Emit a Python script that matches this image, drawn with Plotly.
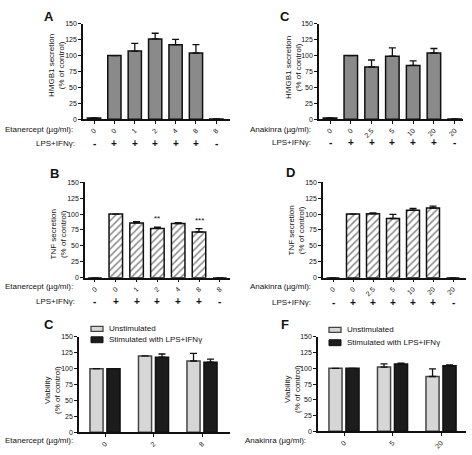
import plotly.graph_objects as go

W, H = 472, 455

# ---------------- data ----------------
eta_conc = ["0", "0", "1", "2", "4", "8", "8"]
ana_conc = ["0", "0", "2.5", "5", "10", "20", "20"]
lps_signs = ["-", "+", "+", "+", "+", "+", "-"]

hmgb1_eta = [2, 100, 107, 126, 117, 104, 0.5]
hmgb1_eta_err = [0, 0, 12, 9, 8.5, 13, 0]
hmgb1_ana = [2, 100, 82, 99, 84.5, 104, 0.5]
hmgb1_ana_err = [0, 0, 11, 13, 7, 7, 0]
tnf_eta = [0, 100, 86, 77.5, 85, 72, 0]
tnf_eta_err = [0, 0, 2, 2, 1.5, 5, 0]
tnf_eta_sig = ["", "", "", "**", "", "***", ""]
tnf_ana = [0, 100, 100.5, 93, 106, 109.5, 0]
tnf_ana_err = [0, 0, 1.5, 6.5, 3, 3, 0]

via_eta_conc = ["0", "2", "8"]
via_eta_unstim = [100, 120, 112]
via_eta_unstim_err = [0, 0, 12]
via_eta_stim = [100, 118, 110]
via_eta_stim_err = [0, 5, 5]

via_ana_conc = ["0", "5", "20"]
via_ana_unstim = [100, 102, 87]
via_ana_unstim_err = [0, 5, 12]
via_ana_stim = [100, 107, 104]
via_ana_stim_err = [0, 1, 1.5]

y_ticks = [0, 25, 50, 75, 100, 125, 150]

# ---------------- helpers ----------------
FONT = "Liberation Sans, Arial, sans-serif"
INK = "#111111"


def px(x):
    return x / W


def py(y):
    return 1 - y / H


fig = go.Figure()

panels = {
    # name: (x0, x1, ytop, ybottom, xrange)
    1: (83, 230, 20, 117, [-0.54, 6.67]),
    2: (85, 230, 181, 278, [-0.48, 6.49]),
    3: (319, 463, 20, 117, [-0.53, 6.4]),
    4: (323, 466, 181, 278, [-0.5, 6.65]),
    5: (79, 230, 338, 435, [-0.536, 2.577]),
    6: (318, 466, 338, 434, [-0.536, 2.515]),
}
ticktexts = {1: eta_conc, 2: eta_conc, 3: ana_conc, 4: ana_conc,
             5: via_eta_conc, 6: via_ana_conc}

layout = dict(
    width=W, height=H,
    margin=dict(l=0, r=0, t=0, b=0),
    paper_bgcolor="white", plot_bgcolor="white",
    showlegend=False, barmode="overlay",
    font=dict(family=FONT, size=8, color=INK),
)

for i, (x0, x1, yt, yb, xr) in panels.items():
    sx = "" if i == 1 else str(i)
    layout["xaxis" + sx] = dict(
        domain=[px(x0), px(x1)], range=xr, anchor="y" + sx,
        tickvals=list(range(len(ticktexts[i]))), ticktext=ticktexts[i],
        tickangle=-45, ticks="outside", ticklen=3, tickwidth=1, tickcolor=INK,
        showline=True, linecolor=INK, linewidth=1.5,
        showgrid=False, zeroline=False, fixedrange=True,
        tickfont=dict(size=7, family=FONT, color=INK),
    )
    layout["yaxis" + sx] = dict(
        domain=[py(yb), py(yt)], range=[0, 150], anchor="x" + sx,
        tickvals=y_ticks, ticks="outside", ticklen=3, tickwidth=1, tickcolor=INK,
        showline=True, linecolor=INK, linewidth=1.5,
        showgrid=False, zeroline=False, fixedrange=True,
        tickfont=dict(size=7, family=FONT, color=INK),
    )


def err(arr):
    return dict(type="data", array=arr, arrayminus=[0] * len(arr), symmetric=False,
                color=INK, thickness=1.3, width=3.5)


solid_marker = dict(color="#8a8a8a", line=dict(color=INK, width=1.5))
hatch_marker = dict(color="white", line=dict(color=INK, width=1.5),
                    pattern=dict(shape="/", fgcolor=INK, bgcolor="white",
                                 size=5, solidity=0.3))

fig.add_bar(x=list(range(len(hmgb1_eta))), y=hmgb1_eta, error_y=err(hmgb1_eta_err),
            width=0.65, marker=solid_marker, xaxis="x", yaxis="y")
fig.add_bar(x=list(range(len(tnf_eta))), y=tnf_eta, error_y=err(tnf_eta_err),
            width=0.65, marker=hatch_marker, xaxis="x2", yaxis="y2")
fig.add_bar(x=list(range(len(hmgb1_ana))), y=hmgb1_ana, error_y=err(hmgb1_ana_err),
            width=0.65, marker=solid_marker, xaxis="x3", yaxis="y3")
fig.add_bar(x=list(range(len(tnf_ana))), y=tnf_ana, error_y=err(tnf_ana_err),
            width=0.65, marker=hatch_marker, xaxis="x4", yaxis="y4")

unstim_marker = dict(color="#d6d6d6", line=dict(color="#444", width=1.5))
stim_marker = dict(color="#1c1c1c", line=dict(color="#111", width=1.5))

for ax, u, ue, s, se in [("5", via_eta_unstim, via_eta_unstim_err, via_eta_stim, via_eta_stim_err),
                         ("6", via_ana_unstim, via_ana_unstim_err, via_ana_stim, via_ana_stim_err)]:
    xs = list(range(len(u)))
    fig.add_bar(x=xs, y=u, error_y=err(ue), width=0.27, offset=-0.31,
                marker=unstim_marker, name="Unstimulated", xaxis="x" + ax, yaxis="y" + ax)
    fig.add_bar(x=xs, y=s, error_y=err(se), width=0.27, offset=0.04,
                marker=stim_marker, name="Stimulated with LPS+IFNγ", xaxis="x" + ax, yaxis="y" + ax)

annotations = []
shapes = []


def ann(text, x, y, size=8, xanchor="center", yanchor="middle", angle=0, bold=False, **kw):
    annotations.append(dict(
        text=("<b>%s</b>" % text) if bold else text, x=x, y=y, xref=kw.pop("xref", "paper"),
        yref=kw.pop("yref", "paper"), showarrow=False, xanchor=xanchor, yanchor=yanchor,
        textangle=angle, font=dict(family=FONT, size=size, color=INK), **kw))


# panel letters
for letter, x, y in [("A", 49, 13), ("C", 285, 13), ("B", 54, 172), ("D", 290, 171),
                     ("C", 49, 326), ("F", 285, 326)]:
    ann(letter, px(x), py(y), size=13, bold=True)

# y-axis titles
for text, x, y in [("HMGB1 secretion<br>(% of control)", 56, 63),
                   ("HMGB1 secretion<br>(% of control)", 294, 65),
                   ("TNF secretion<br>(% of control)", 58, 234),
                   ("TNF secretion<br>(% of control)", 296, 230),
                   ("Viability<br>(% of control)", 53, 392),
                   ("Viability<br>(% of control)", 293, 391)]:
    ann(text, px(x), py(y), size=8, angle=-90)

# row labels
for text, x, y in [("Etanercept (µg/ml):", 75, 127), ("LPS+IFNγ:", 77, 142),
                   ("Anakinra (µg/ml):", 313, 127), ("LPS+IFNγ:", 313, 141),
                   ("Etanercept (µg/ml):", 75, 287), ("LPS+IFNγ:", 77, 302),
                   ("Anakinra (µg/ml):", 313, 287), ("LPS+IFNγ:", 313, 303),
                   ("Etanercept (µg/ml):", 75, 443), ("Anakinra (µg/ml):", 308, 443)]:
    ann(text, px(x), py(y), size=8, xanchor="right")

# +/- rows
for ax, y in [("x", 142), ("x2", 302), ("x3", 141), ("x4", 303)]:
    for i, s in enumerate(lps_signs):
        ann(s, i, py(y), size=10, xref=ax, bold=True)

# significance marks
for i, s in enumerate(tnf_eta_sig):
    if s:
        ann(s, i, tnf_eta[i] + tnf_eta_err[i], size=8, yanchor="bottom",
            xref="x2", yref="y2", yshift=2)

# legends (manual)
for (lx, ly1, ly2) in [(91, 330, 341), (329, 331, 344)]:
    shapes.append(dict(type="rect", xref="paper", yref="paper",
                       x0=px(lx), x1=px(lx + 12), y0=py(ly1 + 2.5), y1=py(ly1 - 2.5),
                       fillcolor="#d6d6d6", line=dict(color="#444", width=1.3)))
    shapes.append(dict(type="rect", xref="paper", yref="paper",
                       x0=px(lx), x1=px(lx + 12), y0=py(ly2 + 3), y1=py(ly2 - 3),
                       fillcolor="#1c1c1c", line=dict(color="#111", width=1)))
    ann("Unstimulated", px(lx + 16), py(ly1), size=8, xanchor="left")
    ann("Stimulated with LPS+IFNγ", px(lx + 16), py(ly2), size=8, xanchor="left")

layout["annotations"] = annotations
layout["shapes"] = shapes
fig.update_layout(**layout)

fig.write_html("out.html", config={"displayModeBar": False},
               post_script="document.body.style.margin='0';")
